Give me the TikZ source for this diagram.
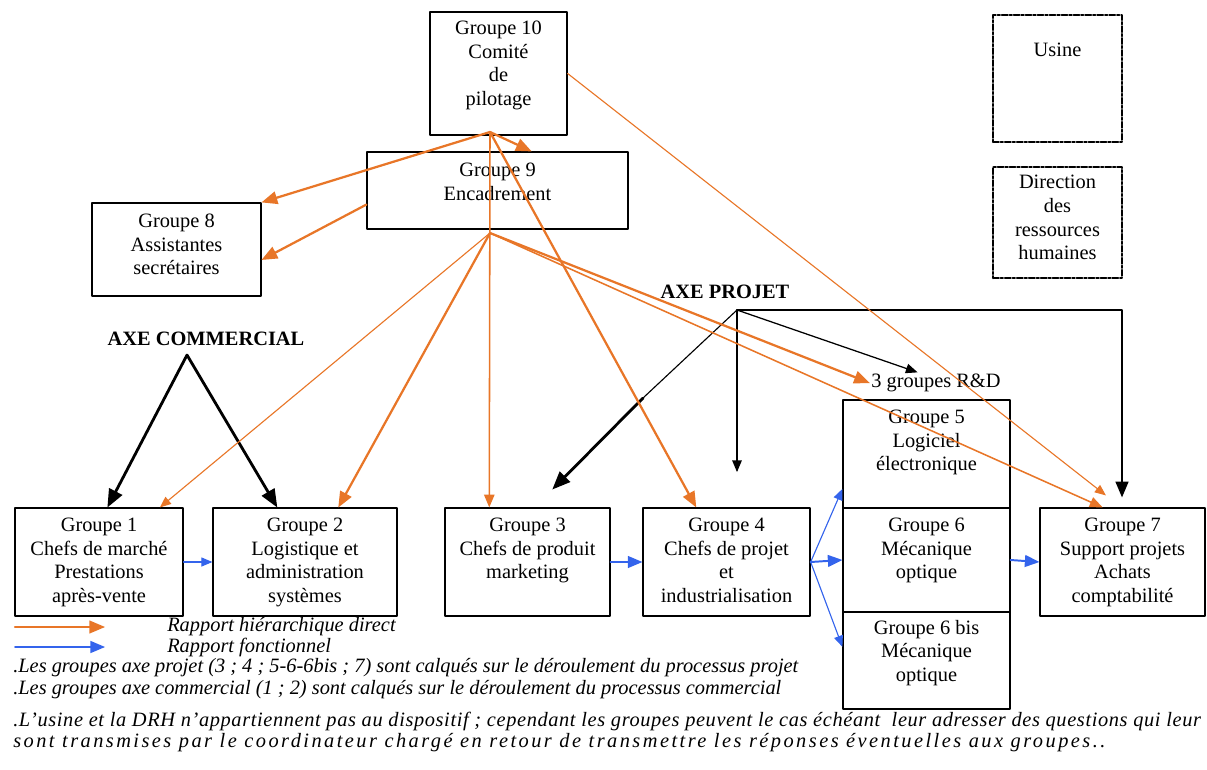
\documentclass[tikz,border=0pt]{standalone}
\usepackage{fontspec}
\setmainfont{Liberation Serif}
\usepackage{tikz}
\usetikzlibrary{arrows,fit,calc}
\definecolor{orng}{RGB}{232,118,40}
\definecolor{blu}{RGB}{52,100,236}

\begin{document}
\begin{tikzpicture}[line cap=round,line join=round,>=triangle 45,x=0.025cm,y=-0.025cm,
  grp/.style={draw,line width=0.9pt,inner sep=0pt},
  ext/.style={draw,line width=1.8pt,inner sep=0pt,dash pattern=on 4pt off 1.5pt on 1.5pt off 1.5pt},
  txt/.style={anchor=north,align=center,inner sep=1pt,font=\fontsize{14.5}{16.8}\selectfont},
  axe/.style={font=\fontsize{14.5}{16.8}\selectfont\bfseries},
  note/.style={anchor=west,inner sep=0pt,font=\fontsize{14.5}{15.6}\selectfont\itshape},
  hier/.style={->,draw=orng,line width=1.6pt},
  hiermid/.style={->,draw=orng,line width=1.1pt},
  hierthin/.style={->,draw=orng,line width=0.8pt},
  fonc/.style={->,draw=blu,line width=1.4pt},
  foncthin/.style={->,draw=blu,line width=0.8pt},
  axearrow/.style={->,line width=2pt},
  axearrowthin/.style={->,line width=0.9pt}]
\useasboundingbox (0,0) rectangle (1207,769);

% direction
\node[grp,fit={(430,12) (567,135)}] (g10) {};
\node[txt] (t10) at ($(g10.north)+(0,8)$) {Groupe 10\\Comité\\de\\pilotage};
\node[grp,fit={(367,152) (628,229)}] (g9) {};
\node[txt] (t9) at ($(g9.north)+(0,10)$) {Groupe 9\\Encadrement};
\node[grp,fit={(92,203) (261,296)}] (g8) {};
\node[txt] (t8) at ($(g8.north)+(0,10)$) {Groupe 8\\Assistantes\\secrétaires};

% hors dispositif
\node[ext,fit={(993,15) (1122,142)}] (usine) {};
\node[txt] (tu) at ($(usine.north)+(0,28)$) {Usine};
\node[ext,fit={(993,167) (1122,278)}] (drh) {};
\node[txt] (td) at ($(drh.north)+(0,8)$) {Direction\\des\\ressources\\humaines};

% groupes
\node[grp,fit={(15,508) (183,616)}] (g1) {};
\node[txt] (t1) at ($(g1.north)+(0,9)$) {Groupe 1\\Chefs de marché\\Prestations\\après-vente};
\node[grp,fit={(213,508) (397,616)}] (g2) {};
\node[txt] (t2) at ($(g2.north)+(0,9)$) {Groupe 2\\Logistique et\\administration\\systèmes};
\node[grp,fit={(445,508) (610,616)}] (g3) {};
\node[txt] (t3) at ($(g3.north)+(0,9)$) {Groupe 3\\Chefs de produit\\marketing};
\node[grp,fit={(643,508) (810,616)}] (g4) {};
\node[txt] (t4) at ($(g4.north)+(0,9)$) {Groupe 4\\Chefs de projet\\et\\industrialisation};
\node[grp,fit={(843,400) (1010,508)}] (g5) {};
\node[txt] (t5) at ($(g5.north)+(0,9)$) {Groupe 5\\Logiciel\\électronique};
\node[grp,fit={(843,508) (1010,612)}] (g6) {};
\node[txt] (t6) at ($(g6.north)+(0,9)$) {Groupe 6\\Mécanique\\optique};
\node[grp,fit={(843,612) (1010,709)}] (g6b) {};
\node[txt] (t6b) at ($(g6b.north)+(0,7)$) {Groupe 6 bis\\Mécanique\\optique};
\node[grp,fit={(1040,508) (1205,616)}] (g7) {};
\node[txt] (t7) at ($(g7.north)+(0,9)$) {Groupe 7\\Support projets\\Achats\\comptabilité};
\node[inner sep=1pt,font=\fontsize{14.5}{16.8}\selectfont] (rd) at (936,383) {3 groupes R\&D};

% axes
\node[axe] (axcom) at (206,339) {AXE COMMERCIAL};
\coordinate (axc) at (187,355);
\draw[axearrow] (axc) -- ($(g1.north west)!.55!(g1.north east)$);
\draw[axearrow] (axc) -- ($(g2.north west)!.35!(g2.north east)$);

\node[axe] (axproj) at (725,292) {AXE PROJET};
\coordinate (axp) at (737,310);
\coordinate (axpd) at (737,472);
\coordinate (bend) at (643,398);
\draw[axearrowthin] (axp) -- (rd.150);
\draw[axearrowthin] (axp) -- (axpd);
\draw[->,line width=1.6pt] (axp) -| ($(g7.north west)!.497!(g7.north east)+(0,-10)$);
\draw[line width=0.8pt] (axp) -- (bend);
\draw[axearrow] (bend) -- ($(g3.north west)!.65!(g3.north east)+(0,-18)$);

% rapports hierarchiques
\coordinate (hub10) at (490,132);
\coordinate (hub9) at (490,233);
\draw[hier] (hub10) -- (g8.north east);
\draw[hier] (hub10) -- ($(g9.north west)!.63!(g9.north east)$);
\draw[hier] (hub10) -- ($(g4.north west)!.32!(g4.north east)$);
\draw[hiermid] (hub10) -- ($(g3.north west)!.27!(g3.north east)$);
\draw[hierthin] (g10.east) -- ($(g7.north west)!.4!(g7.north east)+(0,-12)$);
\draw[hier] ($(g9.north west)!.68!(g9.south west)$) -- ($(g8.north east)!.61!(g8.south east)$);
\draw[hierthin] (hub9) -- ($(g1.north west)!.86!(g1.north east)$);
\draw[hier] (hub9) -- ($(g2.north west)!.68!(g2.north east)$);
\draw[hier] (hub9) -- (rd.west);
\draw[hiermid] (hub9) -- ($(g7.north west)!.38!(g7.north east)$);

% rapports fonctionnels
\draw[foncthin] (g1.east) -- (g2.west);
\draw[fonc] (g3.east) -- (g4.west);
\draw[foncthin] (g4.east) -- ($(g5.south west)!.18!(g5.north west)$);
\draw[fonc] (g4.east) -- (g6.west);
\draw[foncthin] (g4.east) -- ($(g6b.north west)!.36!(g6b.south west)$);
\draw[fonc] (g6.east) -- (g7.west);

% legende
\coordinate (k1) at (15,627);
\coordinate (k2) at (15,647);
\draw[hier] (k1) -- ++(90,0);
\draw[fonc] (k2) -- ++(90,0);
\node[note] (l1) at (167,627) {Rapport hiérarchique direct};
\node[note] (l2) at (167,647) {Rapport fonctionnel};
\node[note] (n1) at (13,668) {.Les groupes axe projet (3 ; 4 ; 5-6-6bis ; 7) sont calqués sur le déroulement du processus projet};
\node[note] (n2) at (13,690) {.Les groupes axe commercial (1 ; 2) sont calqués sur le déroulement du processus commercial};
\node[note] (n3) at (13,721) {\addfontfeature{LetterSpace=3}.L’usine et la DRH n’appartiennent pas au dispositif ; cependant les groupes peuvent le cas échéant\ \ leur adresser des questions qui leur};
\node[note] (n4) at (13,743) {\addfontfeature{LetterSpace=12}sont transmises par le coordinateur chargé en retour de transmettre les réponses éventuelles aux groupes..};
\end{tikzpicture}
\end{document}
